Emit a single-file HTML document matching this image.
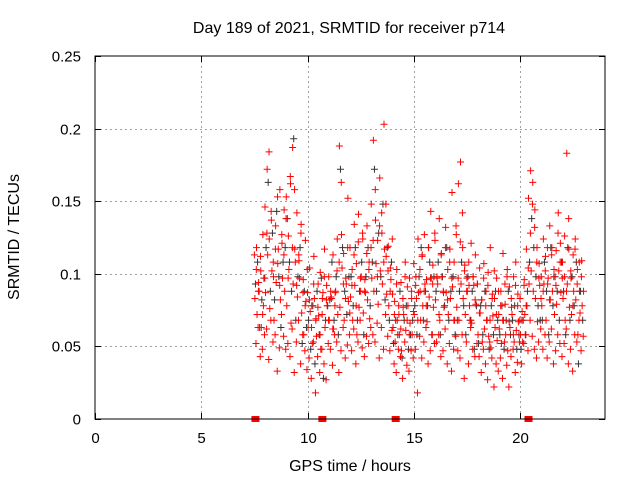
<!DOCTYPE html>
<html><head><meta charset="utf-8"><style>
body{margin:0;background:#fff}
svg{display:block;font-family:"Liberation Sans",sans-serif}
</style></head><body>
<svg id="c" width="640" height="480" viewBox="0 0 640 480">
<text x="349" y="33" font-size="16" text-anchor="middle">Day 189 of 2021, SRMTID for receiver p714</text>
<text x="350" y="471" font-size="16" text-anchor="middle">GPS time / hours</text>
<text transform="translate(19,237) rotate(-90)" font-size="16" text-anchor="middle">SRMTID / TECUs</text>
<g id="grid"></g>
<g id="ticks"></g>
<g id="pts"></g>
<rect x="95" y="56" width="510" height="363" fill="none" stroke="#000" stroke-width="1"/>
</svg>
<script>
const xTicks=[0,5,10,15,20];
const yTicks=[0,0.05,0.1,0.15,0.2,0.25];
const yTickLabels=["0","0.05","0.1","0.15","0.2","0.25"];
const hours=[7.5,7.6,7.7,7.8,7.9,8.0,8.1,8.2,8.3,8.4,8.5,8.6,8.7,8.8,8.9,9.0,9.1,9.2,9.3,9.4,9.5,9.6,9.7,9.8,9.9,10.0,10.1,10.2,10.3,10.4,10.5,10.6,10.7,10.8,10.9,11.0,11.1,11.2,11.3,11.4,11.5,11.6,11.7,11.8,11.9,12.0,12.1,12.2,12.3,12.4,12.5,12.6,12.7,12.8,12.9,13.0,13.1,13.2,13.3,13.4,13.5,13.6,13.7,13.8,13.9,14.0,14.1,14.2,14.3,14.4,14.5,14.6,14.7,14.8,14.9,15.0,15.1,15.2,15.3,15.4,15.5,15.6,15.7,15.8,15.9,16.0,16.1,16.2,16.3,16.4,16.5,16.6,16.7,16.8,16.9,17.0,17.1,17.2,17.3,17.4,17.5,17.6,17.7,17.8,17.9,18.0,18.1,18.2,18.3,18.4,18.5,18.6,18.7,18.8,18.9,19.0,19.1,19.2,19.3,19.4,19.5,19.6,19.7,19.8,19.9,20.0,20.1,20.2,20.3,20.4,20.5,20.6,20.7,20.8,20.9,21.0,21.1,21.2,21.3,21.4,21.5,21.6,21.7,21.8,21.9,22.0,22.1,22.2,22.3,22.4,22.5,22.6,22.7,22.8,22.9];
const redA=[.113,.118,.094,.102,.127,.146,.172,.124,.137,.098,.133,.107,.158,.121,.144,
.153,.126,.162,.187,.117,.142,.109,.134,.096,.123,
.087,.104,.078,.112,.069,.093,.101,.083,.117,.092,
.098,.084,.113,.087,.124,.188,.127,.114,.097,.152,
.118,.103,.134,.107,.141,.088,.124,.096,.133,.108,
.148,.192,.137,.123,.166,.128,.203,.112,.119,.104,
.086,.081,.103,.072,.094,.077,.108,.091,.097,.083,
.107,.098,.124,.088,.113,.127,.096,.118,.143,.106,
.123,.097,.138,.114,.087,.132,.103,.117,.156,.108,
.127,.162,.177,.118,.106,.097,.092,.121,.098,.113,
.093,.104,.082,.107,.088,.101,.118,.086,.083,.097,
.072,.088,.114,.079,.103,.091,.077,.098,.108,.086,
.083,.074,.096,.117,.152,.171,.163,.144,.118,.107,
.098,.124,.112,.093,.133,.118,.103,.116,.142,.121,
.108,.126,.183,.117,.097,.113,.124,.103,.088,.109];
const redB=[.083,.072,.088,.063,.078,.087,.113,.076,.102,.068,.094,.117,.082,.097,.088,
.078,.103,.066,.093,.108,.084,.097,.073,.058,.081,
.063,.074,.052,.083,.057,.071,.048,.087,.063,.078,
.068,.083,.062,.088,.072,.077,.104,.068,.093,.081,
.084,.068,.092,.058,.077,.098,.073,.087,.082,.069,
.097,.088,.107,.079,.102,.093,.117,.086,.078,.096,
.063,.053,.068,.058,.047,.072,.061,.078,.066,.058,
.072,.083,.087,.068,.078,.093,.067,.084,.097,.077,
.082,.093,.068,.098,.077,.087,.072,.083,.091,.068,
.077,.068,.093,.083,.072,.088,.078,.066,.092,.079,
.058,.073,.053,.062,.068,.057,.049,.071,.063,.054,
.062,.052,.068,.058,.047,.063,.072,.053,.061,.067,
.058,.053,.072,.078,.093,.102,.088,.083,.067,.092,
.078,.093,.068,.097,.082,.088,.072,.079,.102,.087,
.083,.068,.093,.077,.072,.088,.082,.058,.073,.078];
const redC=[.052,.063,.043,.048,.058,.062,.041,.068,.053,.058,.033,.049,.072,.057,.048,
.052,.043,.062,.032,.053,.068,.038,.058,.047,.034,
.042,.028,.053,.018,.043,.032,.048,.038,.027,.052,
.048,.037,.058,.053,.032,.047,.063,.042,.051,.058,
.047,.062,.038,.053,.068,.049,.043,.057,.052,.063,
.058,.053,.066,.042,.063,.048,.072,.057,.047,.061,
.038,.032,.048,.043,.028,.053,.037,.033,.047,.042,
.048,.018,.057,.042,.053,.063,.038,.047,.058,.052,
.053,.058,.043,.047,.062,.038,.052,.033,.048,.057,
.047,.042,.058,.028,.053,.038,.063,.048,.043,.052,
.043,.032,.048,.038,.027,.053,.042,.022,.038,.033,
.042,.028,.053,.037,.022,.043,.048,.032,.039,.053,
.038,.052,.058,.047,.068,.057,.048,.042,.053,.062,
.048,.058,.042,.053,.062,.038,.047,.058,.052,.043,
.052,.062,.038,.048,.033,.058,.053,.068,.047,.057];
const redD=[.103,.088,.112,.072,.097,.128,.184,.143,.108,.117,.153,.092,.127,.113,.138,
.097,.167,.118,.158,.092,.113,.128,.087,.078,.103,
.082,.063,.093,.068,.077,.058,.072,.098,.082,.068,
.088,.062,.078,.102,.108,.163,.093,.083,.118,.073,
.092,.113,.078,.122,.097,.128,.088,.114,.103,.118,
.123,.158,.098,.133,.142,.108,.148,.102,.088,.124,
.072,.093,.078,.062,.083,.098,.068,.058,.088,.074,
.092,.068,.103,.112,.088,.078,.118,.097,.093,.128,
.098,.072,.113,.088,.118,.082,.108,.097,.068,.133,
.097,.122,.142,.102,.088,.108,.068,.098,.082,.093,
.073,.082,.097,.078,.092,.068,.083,.102,.072,.088,
.078,.068,.093,.098,.067,.083,.058,.092,.078,.068,
.068,.092,.078,.104,.128,.148,.132,.108,.097,.083,
.088,.102,.118,.082,.113,.098,.092,.128,.108,.097,
.098,.088,.138,.102,.078,.117,.093,.108,.098,.088];
const black=[.093,.108,.063,.082,.097,.118,.163,.088,.128,.082,.143,.098,.063,.108,.118,
.138,.108,.088,.193,.068,.098,.118,.052,.088,.063,
.068,.048,.078,.038,.088,.058,.097,.028,.068,.078,
.082,.108,.068,.098,.058,.172,.118,.088,.072,.098,
.098,.078,.118,.068,.088,.108,.058,.098,.118,.078,
.108,.172,.088,.128,.098,.148,.082,.118,.068,.108,
.052,.068,.058,.088,.042,.068,.078,.048,.058,.068,
.078,.058,.098,.118,.068,.088,.078,.108,.058,.098,
.088,.108,.058,.098,.078,.118,.068,.088,.098,.058,
.068,.088,.108,.078,.058,.098,.068,.088,.048,.078,
.052,.078,.058,.088,.068,.048,.078,.058,.088,.068,
.058,.078,.048,.068,.088,.058,.068,.078,.048,.058,
.048,.068,.058,.088,.108,.138,.118,.098,.078,.068,
.068,.108,.088,.058,.118,.078,.098,.088,.068,.108,
.088,.058,.118,.068,.098,.078,.108,.038,.088,.068];
const eventHours=[7.55,10.7,14.15,20.4];

const NS="http://www.w3.org/2000/svg";
const X0=95,X1=605,Y0=419,Y1=56,XMAX=24,YMAX=0.25;
function sx(v){return X0+(X1-X0)*v/XMAX;}
function sy(v){return Y0-(Y0-Y1)*v/YMAX;}
function mk(tag,attrs,parent){const e=document.createElementNS(NS,tag);for(const k in attrs)e.setAttribute(k,attrs[k]);parent.appendChild(e);return e;}
const grid=document.getElementById('grid'),ticks=document.getElementById('ticks'),pts=document.getElementById('pts');
xTicks.forEach(t=>{
  const x=Math.round(sx(t))+0.5;
  if(t>0){const g=mk('line',{x1:x,x2:x,y1:Y1,y2:Y0,stroke:'#a0a0a0','stroke-dasharray':'2,3'},grid);
  
  }
  mk('line',{x1:x,x2:x,y1:Y0,y2:Y0-6,stroke:'#000'},ticks);
  mk('line',{x1:x,x2:x,y1:Y1,y2:Y1+6,stroke:'#000'},ticks);
  const l=mk('text',{x:x,y:443,'font-size':15,'text-anchor':'middle'},ticks);l.textContent=t;
  
  
});
yTicks.forEach((t,i)=>{
  const y=Math.round(sy(t))+0.5;
  if(t>0&&t<YMAX){const g=mk('line',{x1:X0,x2:X1,y1:y,y2:y,stroke:'#a0a0a0','stroke-dasharray':'2,3'},grid);
  
  }
  mk('line',{x1:X0,x2:X0+6,y1:y,y2:y,stroke:'#000'},ticks);
  mk('line',{x1:X1,x2:X1-6,y1:y,y2:y,stroke:'#000'},ticks);
  const l=mk('text',{x:81,y:y+5,'font-size':15,'text-anchor':'end'},ticks);l.textContent=yTickLabels[i];
  
  
});
function plus(h,v,color,off){
  const x=sx(h+off),y=sy(v);
  const p=mk('path',{d:`M${x-3.5},${y}h7M${x},${y-3.5}v7`,stroke:color,'stroke-width':1,fill:'none'},pts);
  
  
}
hours.forEach((h,i)=>plus(h,black[i],'#333',0.05));
[redA,redB,redC,redD].forEach((s,k)=>hours.forEach((h,i)=>plus(h,s[i],'#f00',[0,0.025,0.075,0.09][k])));
eventHours.forEach(h=>{
  const r=mk('rect',{x:sx(h)-4,y:Y0-3,width:8,height:6,fill:'#f00'},pts);
  
  
});
</script>
</body></html>
